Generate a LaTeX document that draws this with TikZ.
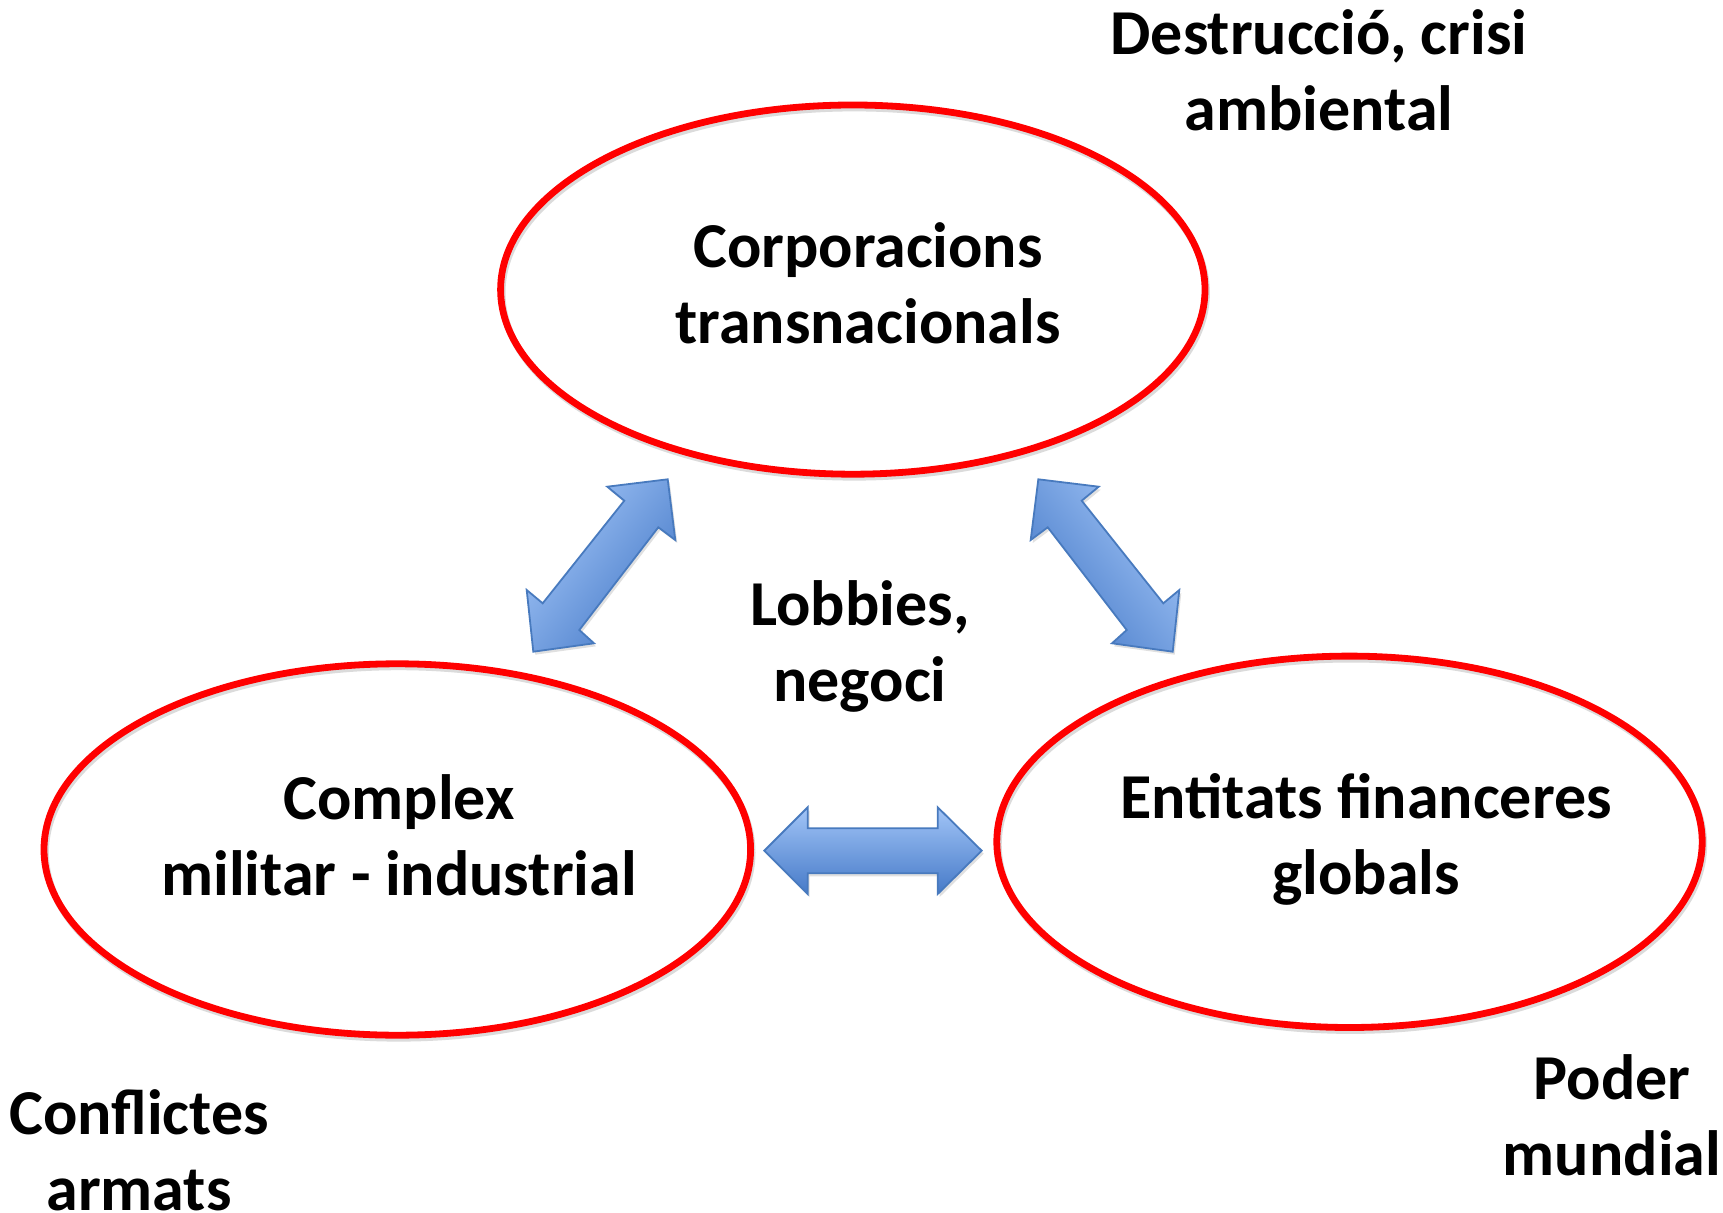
\documentclass[tikz,border=0pt]{standalone}
\usepackage{fontspec}
\setmainfont{Carlito}
\usetikzlibrary{shapes.geometric}
\definecolor{arrlight}{RGB}{162,197,247}
\definecolor{arrdark}{RGB}{70,122,200}
\definecolor{arredge}{RGB}{72,122,190}
\definecolor{ringred}{RGB}{255,0,0}
\tikzset{
  ring/.style={ellipse, draw=ringred, line width=3.4pt, inner sep=0pt},
  ringshadow/.style={draw=black!14, line width=3.4pt},
  blockarrow/.style={draw=arredge, line width=0.9pt, top color=arrlight, bottom color=arrdark, line join=miter},
  arrowshadow/.style={fill=black!12},
  lbl/.style={font=\fontsize{32}{38}\selectfont\bfseries, inner sep=0pt, anchor=base}
}
\begin{document}
\begin{tikzpicture}[x=0.5pt, y=-0.5pt]
\useasboundingbox[fill=white] (0,0) rectangle (1723,1213);

% shadows of the ellipses
\draw[ringshadow] (854.3,292.6) ellipse (176.1pt and 92.3pt);
\draw[ringshadow] (398.8,852.5) ellipse (176.65pt and 92.85pt);
\draw[ringshadow] (1351,844.8) ellipse (176.35pt and 92.85pt);

% ellipses
\node[ring, minimum width=352.2pt, minimum height=184.6pt] (corp) at (852.8,289.6) {};
\node[ring, minimum width=353.3pt, minimum height=185.7pt] (mil) at (397.3,849.5) {};
\node[ring, minimum width=352.7pt, minimum height=185.7pt] (fin) at (1349.5,841.8) {};

% shadows of the block arrows
\begin{scope}[shift={(2,3)}]
\fill[arrowshadow] (667.7,479.3) -- (607.3,486.7) -- (624.3,500.7) -- (542.7,603.3) -- (526.7,590) -- (533.3,651.7) -- (594,643.3) -- (579.3,630) -- (658.3,527.3) -- (675.3,540) -- cycle;
\fill[arrowshadow] (1038.3,479.3) -- (1098.7,486.7) -- (1081.7,500.7) -- (1163.3,603.3) -- (1179.3,590) -- (1172.7,651.7) -- (1112,643.3) -- (1126.7,630) -- (1047.7,527.3) -- (1030.7,540) -- cycle;
\fill[arrowshadow] (764.3,850.7) -- (807.7,807.3) -- (807.7,828.3) -- (937.7,828.3) -- (937.7,807.3) -- (981.7,850.7) -- (937.7,894) -- (937.7,873.3) -- (807.7,873.3) -- (807.7,894) -- cycle;
\end{scope}

% block arrows
\path[blockarrow, shading angle=52] (667.7,479.3) -- (607.3,486.7) -- (624.3,500.7) -- (542.7,603.3) -- (526.7,590) -- (533.3,651.7) -- (594,643.3) -- (579.3,630) -- (658.3,527.3) -- (675.3,540) -- cycle;
\path[blockarrow, shading angle=-52] (1038.3,479.3) -- (1098.7,486.7) -- (1081.7,500.7) -- (1163.3,603.3) -- (1179.3,590) -- (1172.7,651.7) -- (1112,643.3) -- (1126.7,630) -- (1047.7,527.3) -- (1030.7,540) -- cycle;
\path[blockarrow] (764.3,850.7) -- (807.7,807.3) -- (807.7,828.3) -- (937.7,828.3) -- (937.7,807.3) -- (981.7,850.7) -- (937.7,894) -- (937.7,873.3) -- (807.7,873.3) -- (807.7,894) -- cycle;

% texts
\node[lbl] (corpT) at (868,268) {\begin{tabular}[t]{@{}c@{}}Corporacions\\transnacionals\end{tabular}};
\node[lbl] (lobT) at (860,625) {\begin{tabular}[t]{@{}c@{}}Lobbies,\\negoci\end{tabular}};
\node[lbl] (milT) at (399,819) {\begin{tabular}[t]{@{}c@{}}Complex\\militar - industrial\end{tabular}};
\node[lbl] (finT) at (1366,818) {\begin{tabular}[t]{@{}c@{}}Entitats financeres\\globals\end{tabular}};
\node[lbl] (desT) at (1319,55) {\begin{tabular}[t]{@{}c@{}}Destrucció, crisi\\ambiental\end{tabular}};
\node[lbl] (conT) at (139,1134) {\begin{tabular}[t]{@{}c@{}}Conflictes\hspace{5pt}\\armats\end{tabular}};
\node[lbl] (podT) at (1612,1099) {\begin{tabular}[t]{@{}c@{}}Poder\hspace{6pt}\\mundial\end{tabular}};
\end{tikzpicture}
\end{document}
